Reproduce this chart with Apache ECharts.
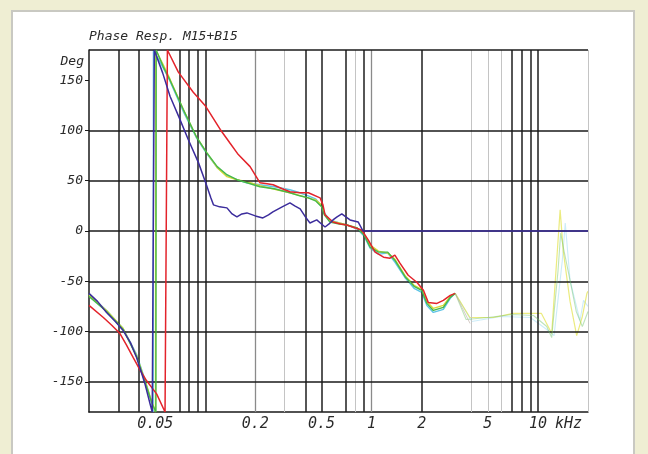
<!DOCTYPE html>
<html>
<head>
<meta charset="utf-8">
<script src="https://cdn.jsdelivr.net/npm/echarts@6/dist/echarts.min.js"></script>
<style>
  html, body { margin: 0; padding: 0; background: #efeed3; }
  #chart { width: 648px; height: 454px; }
</style>
</head>
<body>
<div id="chart"></div>
<script>
// Phase response of the M15 + B15 combination, frequency in kHz, phase in degrees.
const xTickLabels = [0.05, 0.2, 0.5, 1, 2, 5, 10];
const yTickLabels = [-150, -100, -50, 0, 50, 100, 150];

// Vertical grid at the log-scale minor frequencies (kHz), three weights
const gridDark = [0.03, 0.04, 0.07, 0.08, 0.09, 0.1, 0.4, 0.5, 0.7, 0.9, 2, 7, 8, 9, 10];
const gridMid = [0.2, 1];
const gridLight = [0.3, 0.8, 4, 5, 6, 20];
const gridRows = [-150, -100, -50, 0, 50, 100, 180];

const navyPts = [
  [0.02, -62], [0.0225, -70], [0.0255, -81], [0.0288, -90], [0.0321, -99], [0.0355, -111],
  [0.0387, -126], [0.0434, -152], [0.0466, -172], [0.048, -180], [0.0494, 180], [0.0555, 157],
  [0.0614, 134], [0.07, 112], [0.079, 91], [0.091, 68], [0.1006, 48], [0.108, 33], [0.112, 26],
  [0.122, 24], [0.135, 23], [0.145, 17], [0.155, 14], [0.166, 17], [0.178, 18], [0.2, 15],
  [0.222, 13], [0.24, 16], [0.255, 19], [0.29, 24], [0.323, 28], [0.345, 25], [0.372, 22],
  [0.4, 14], [0.426, 8], [0.468, 11], [0.5, 7], [0.525, 4], [0.555, 7], [0.586, 11],
  [0.62, 14], [0.662, 17], [0.7, 14], [0.742, 11], [0.83, 9], [0.888, 0], [1, 0], [20, 0]
];

const redPts = [
  [0.02, -74], [0.0244, -86], [0.0275, -94], [0.0307, -102], [0.0335, -113], [0.0369, -126],
  [0.0405, -138], [0.0444, -149], [0.051, -162], [0.0573, -180], [0.0592, 180], [0.0689, 158],
  [0.0847, 138], [0.1006, 124], [0.123, 101], [0.14, 88], [0.158, 76], [0.186, 64], [0.213, 48],
  [0.235, 47], [0.256, 46], [0.29, 42], [0.323, 39], [0.37, 38], [0.417, 38], [0.49, 33],
  [0.51, 26], [0.525, 16], [0.586, 9], [0.65, 7], [0.709, 6], [0.8, 3], [0.872, 1], [0.956, -9],
  [1.05, -21], [1.18, -26], [1.29, -27], [1.38, -24], [1.48, -32], [1.66, -44], [1.87, -51],
  [2.05, -59], [2.19, -71], [2.47, -72], [2.7, -69], [2.97, -64], [3.18, -62]
];
const redTail = [[3.18, -62], [3.5, -76], [3.91, -92]];

const greenPts = [
  [0.02, -65], [0.0255, -80], [0.0321, -98], [0.0387, -125], [0.0434, -150], [0.0475, -170],
  [0.0505, -180], [0.0507, 180], [0.056, 163], [0.0614, 150], [0.0737, 121], [0.0889, 93],
  [0.102, 78], [0.118, 64], [0.135, 56], [0.155, 51], [0.178, 48], [0.213, 44], [0.26, 42],
  [0.323, 38], [0.37, 35], [0.416, 33], [0.46, 30], [0.5, 24], [0.52, 16], [0.56, 9],
  [0.64, 7], [0.709, 6], [0.82, 3], [0.9, -4], [0.98, -16], [1.1, -21], [1.25, -21],
  [1.38, -29], [1.6, -46], [1.8, -55], [2.0, -59], [2.15, -72], [2.35, -79], [2.7, -76],
  [2.97, -66], [3.18, -62]
];
const greenTail = [
  [3.18, -62], [3.7, -88], [5, -86], [7, -83], [9.4, -84], [11.3, -95], [12.1, -106],
  [13.2, -40], [13.7, -2], [14.2, -16], [15.6, -49], [17, -80], [18.5, -95], [20, -80]
];

const yellowPts = [
  [0.02, -64], [0.0255, -79], [0.0321, -97], [0.0387, -124], [0.0434, -149], [0.0475, -169],
  [0.0502, -180], [0.0504, 180], [0.056, 165], [0.0614, 151], [0.0737, 121], [0.0889, 93],
  [0.102, 78], [0.118, 63], [0.135, 54], [0.155, 51], [0.178, 49], [0.213, 45], [0.269, 41],
  [0.323, 38], [0.416, 33], [0.46, 31], [0.5, 26], [0.52, 17], [0.56, 10], [0.64, 8],
  [0.709, 6], [0.82, 3], [0.9, -3], [0.98, -14], [1.1, -20], [1.25, -22], [1.38, -28],
  [1.6, -45], [1.8, -54], [2.0, -58], [2.15, -70], [2.35, -77], [2.7, -74], [2.97, -65],
  [3.18, -62]
];
const yellowTail = [
  [3.18, -62], [3.9, -86], [5.4, -86], [7.1, -82], [9.4, -82], [10.5, -82], [11.6, -96],
  [12.1, -102], [13.6, 21], [14.2, -20], [15.6, -70], [17.1, -104], [18.5, -85], [19.7, -62], [20, -60]
];

const cyanPts = [
  [0.02, -63], [0.0255, -79], [0.0321, -97], [0.0387, -123], [0.0434, -148], [0.0472, -168],
  [0.0486, -180], [0.0488, 180], [0.056, 162], [0.0614, 149], [0.0737, 119], [0.0889, 92],
  [0.102, 77], [0.118, 63], [0.135, 55], [0.155, 51], [0.178, 48], [0.213, 46], [0.26, 44],
  [0.323, 41], [0.37, 38], [0.416, 35], [0.46, 32], [0.5, 25], [0.52, 18], [0.56, 11],
  [0.64, 8], [0.709, 6], [0.82, 2], [0.9, -5], [0.98, -17], [1.1, -23], [1.25, -22],
  [1.38, -31], [1.6, -47], [1.8, -57], [2.0, -61], [2.15, -74], [2.35, -81], [2.7, -78],
  [2.97, -67], [3.18, -62]
];
const cyanTail = [
  [3.18, -62], [4, -90], [6, -85], [9, -86], [11.3, -98], [12.5, -104], [14, -30],
  [14.6, 8], [15.6, -49], [17.9, -89], [18.8, -69], [20, -75]
];

const TEXT = '#2a2a2a';
const FONT = { fontFamily: 'DejaVu Sans Mono', fontStyle: 'italic', fontSize: 13, color: TEXT };
const XFONT = Object.assign({}, FONT, { fontSize: 15 });

function vLine(v, color, width) {
  return { xAxis: v, lineStyle: { color: color, width: width, type: 'solid' } };
}
function hLine(v) {
  return { yAxis: v, lineStyle: { color: '#1a1a1a', width: 1.5, type: 'solid' } };
}

const gridMarks = []
  .concat(gridLight.map(v => vLine(v, '#c4c4c4', 1)))
  .concat(gridMid.map(v => vLine(v, '#8a8a8a', 1.3)))
  .concat(gridDark.map(v => vLine(v, '#1e1e1e', 1.5)))
  .concat(gridRows.map(hLine));

function trace(name, pts, color, width, opacity, z) {
  return {
    name: name, type: 'line', data: pts, symbol: 'none', z: z,
    lineStyle: { color: color, width: width, opacity: opacity },
    animation: false, silent: true
  };
}

const chart = echarts.init(document.getElementById('chart'), null, { renderer: 'canvas' });
chart.setOption({
  backgroundColor: '#efeed3',
  animation: false,
  graphic: [{
    type: 'rect', z: -10, silent: true,
    shape: { x: 12, y: 11, width: 622, height: 460 },
    style: { fill: '#ffffff', stroke: '#c9c9c2', lineWidth: 2 }
  }],
  title: {
    text: 'Phase Resp. M15+B15',
    left: 84, top: 25,
    textStyle: Object.assign({}, FONT, { fontWeight: 'normal', fontSize: 13 })
  },
  grid: { left: 89, right: 60, top: 50, bottom: 42 },
  xAxis: {
    type: 'log', logBase: 10, min: 0.02, max: 20,
    name: 'kHz', nameLocation: 'end', nameGap: -33,
    nameTextStyle: Object.assign({}, XFONT, { align: 'left', verticalAlign: 'top', padding: [5, 0, 0, 0] }),
    axisLine: { show: true, onZero: false, lineStyle: { color: '#1a1a1a', width: 1.5 } },
    axisTick: { show: false },
    splitLine: { show: false },
    minorSplitLine: { show: false },
    axisLabel: Object.assign({}, XFONT, {
      margin: 5,
      customValues: xTickLabels,
      formatter: v => String(v)
    })
  },
  yAxis: {
    type: 'value', min: -180, max: 180,
    name: 'Deg', nameLocation: 'end', nameGap: -12,
    nameTextStyle: Object.assign({}, FONT, { align: 'right', verticalAlign: 'middle', padding: [0, 5, 0, 0] }),
    axisLine: { show: true, onZero: false, lineStyle: { color: '#1a1a1a', width: 1.5 } },
    axisTick: { show: true, length: 4, customValues: yTickLabels, lineStyle: { color: '#1a1a1a' } },
    splitLine: { show: false },
    axisLabel: Object.assign({}, FONT, { margin: 6, customValues: yTickLabels })
  },
  series: [
    {
      name: 'grid', type: 'line', data: [], z: 1, silent: true, animation: false,
      markLine: { silent: true, symbol: 'none', animation: false, label: { show: false }, data: gridMarks }
    },
    trace('cyan', cyanPts, '#5ec4e6', 1.4, 1, 3),
    trace('cyanTail', cyanTail, '#7fd0ee', 1.1, 0.4, 3),
    trace('yellow', yellowPts, '#d9d934', 1.4, 1, 4),
    trace('yellowTail', yellowTail, '#dede2a', 1.2, 0.6, 4),
    trace('green', greenPts, '#47b84a', 1.4, 1, 5),
    trace('greenTail', greenTail, '#6cc468', 1.1, 0.45, 5),
    trace('red', redPts, '#e3232b', 1.5, 1, 6),
    trace('redTail', redTail, '#b9a9a0', 1, 0.6, 6),
    trace('navy', navyPts, '#3b2c9c', 1.5, 1, 7)
  ]
});
</script>
</body>
</html>
